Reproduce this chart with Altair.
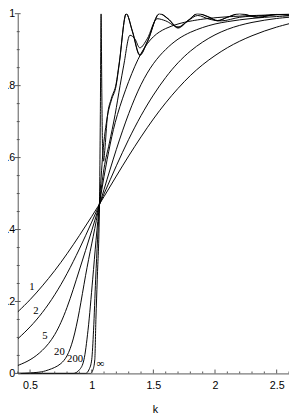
import altair as alt
import pandas as pd

# ---- curve data ----
k_grid = [0.4, 0.5, 0.6, 0.7, 0.8, 0.9, 1.0, 1.1, 1.2, 1.3, 1.4, 1.5, 1.6, 1.7, 1.8, 1.9, 2.0, 2.1, 2.2, 2.3, 2.4, 2.5, 2.6]
v_1 = [0.171, 0.204, 0.243, 0.285, 0.332, 0.383, 0.436, 0.491, 0.549, 0.605, 0.658, 0.708, 0.753, 0.793, 0.829, 0.859, 0.884, 0.906, 0.924, 0.939, 0.952, 0.963, 0.972]
v_2 = [0.096, 0.128, 0.168, 0.217, 0.276, 0.345, 0.420, 0.499, 0.578, 0.652, 0.718, 0.775, 0.824, 0.865, 0.897, 0.922, 0.942, 0.957, 0.968, 0.976, 0.982, 0.987, 0.990]
v_5 = [0.022, 0.036, 0.062, 0.102, 0.178, 0.288, 0.395, 0.512, 0.625, 0.725, 0.807, 0.864, 0.902, 0.931, 0.949, 0.962, 0.972, 0.978, 0.983, 0.987, 0.990, 0.992, 0.994]

k_20 = [0.4, 0.5, 0.6, 0.65, 0.7, 0.75, 0.8, 0.85, 0.9, 0.95, 1.0, 1.05, 1.1, 1.15, 1.2, 1.3, 1.4, 1.5, 1.6, 1.7, 1.8, 2.0, 2.3, 2.6]
v_20 = [0.0, 0.001, 0.004, 0.01, 0.016, 0.026, 0.045, 0.09, 0.17, 0.275, 0.36, 0.445, 0.55, 0.64, 0.715, 0.815, 0.895, 0.94, 0.96, 0.972, 0.98, 0.99, 0.995, 0.998]

k_200 = [0.4, 0.85, 0.9, 0.937, 0.97, 1.008, 1.035, 1.063, 1.1, 1.143, 1.19, 1.23, 1.26, 1.31, 1.35, 1.39, 1.45, 1.53, 1.6, 1.7, 1.78, 1.86, 1.95, 2.05, 2.2, 2.4, 2.6]
v_200 = [0.0, 0.0, 0.01, 0.038, 0.12, 0.262, 0.37, 0.47, 0.57, 0.64, 0.72, 0.80, 0.857, 0.94, 0.93, 0.905, 0.93, 0.986, 0.98, 0.963, 0.98, 0.995, 0.985, 0.98, 0.99, 0.995, 1.0]

k_x = [0.4, 0.95, 0.98, 1.0, 1.015, 1.032, 1.063, 1.09, 1.127, 1.16, 1.198, 1.222, 1.28, 1.33, 1.39, 1.45, 1.55, 1.62, 1.70, 1.78, 1.86, 1.95, 2.02, 2.1, 2.2, 2.35, 2.5, 2.6]
v_x = [0.0, 0.0, 0.012, 0.038, 0.12, 0.262, 0.47, 0.61, 0.714, 0.76, 0.80, 0.857, 1.0, 0.95, 0.884, 0.92, 1.0, 0.985, 0.96, 0.98, 1.0, 0.99, 0.98, 0.99, 1.0, 0.99, 0.998, 0.995]

k_inf = [0.4, 0.99, 1.01, 1.025, 1.034, 1.045, 1.063, 1.07, 1.076, 1.082, 1.088, 1.096, 1.106, 1.127, 1.16, 1.198, 1.222, 1.28, 1.33, 1.39, 1.45, 1.55, 1.62, 1.70, 1.78, 1.86, 1.95, 2.02, 2.1, 2.2, 2.35, 2.5, 2.6]
v_inf = [0.0, 0.0, 0.01, 0.038, 0.15, 0.262, 0.47, 0.72, 1.0, 0.78, 0.63, 0.59, 0.62, 0.714, 0.765, 0.805, 0.86, 1.0, 0.952, 0.886, 0.922, 1.0, 0.986, 0.962, 0.981, 1.0, 0.991, 0.981, 0.99, 1.0, 0.99, 0.998, 0.996]

label_text = ["1", "2", "5", "20", "200", "\u221e"]
label_k = [0.516, 0.548, 0.62, 0.738, 0.865, 1.07]
label_v = [0.24, 0.173, 0.103, 0.06, 0.04, 0.027]

x_major = [0.5, 1.0, 1.5, 2.0, 2.5]
x_minor = [0.4, 0.6, 0.7, 0.8, 0.9, 1.1, 1.2, 1.3, 1.4, 1.6, 1.7, 1.8, 1.9, 2.1, 2.2, 2.3, 2.4, 2.6]
y_major = [0.0, 0.2, 0.4, 0.6, 0.8, 1.0]
y_minor = [0.05, 0.1, 0.15, 0.25, 0.3, 0.35, 0.45, 0.5, 0.55, 0.65, 0.7, 0.75, 0.85, 0.9, 0.95]

# ---- build tables ----
smooth_rows = []
for name, vs in [("1", v_1), ("2", v_2), ("5", v_5)]:
    for i, (a, b) in enumerate(zip(k_grid, vs)):
        smooth_rows.append({"series": name, "k": a, "v": b, "i": i})
for i, (a, b) in enumerate(zip(k_20, v_20)):
    smooth_rows.append({"series": "20", "k": a, "v": b, "i": i})
df_s = pd.DataFrame(smooth_rows)

osc_rows = []
for name, ks, vs in [("200", k_200, v_200), ("x", k_x, v_x), ("inf", k_inf, v_inf)]:
    for i, (a, b) in enumerate(zip(ks, vs)):
        osc_rows.append({"series": name, "k": a, "v": b, "i": i})
df_o = pd.DataFrame(osc_rows)

W, H = 279, 370
xs = alt.Scale(domain=[0.4, 2.6], nice=False, zero=False)
ys = alt.Scale(domain=[0, 1], nice=False, zero=False)

x_axis = alt.Axis(values=x_major, format="~g", ticks=False, tickSize=0, grid=False,
                  domainColor="#555", labelFont="Liberation Sans", labelFontSize=11,
                  labelColor="black", labelPadding=7, title="k",
                  titleFont="Liberation Sans", titleFontSize=11, titleFontWeight="normal",
                  titleColor="black", titlePadding=13, titleX=141)
y_axis = alt.Axis(values=y_major, format="~g", ticks=False, tickSize=0, grid=False,
                  domainColor="#555", labelFont="Liberation Sans", labelFontSize=11,
                  labelColor="black", labelPadding=3, title=None)

smooth = alt.Chart(df_s).mark_line(color="black", strokeWidth=1, interpolate="basis", clip=True).encode(
    x=alt.X("k:Q", scale=xs, axis=x_axis),
    y=alt.Y("v:Q", scale=ys, axis=y_axis),
    detail="series:N",
    order="i:Q",
)
osc = alt.Chart(df_o).mark_line(color="black", strokeWidth=1, interpolate="monotone", clip=True).encode(
    x=alt.X("k:Q", scale=xs),
    y=alt.Y("v:Q", scale=ys),
    detail="series:N",
    order="i:Q",
)

labels_df = pd.DataFrame({"t": label_text, "k": label_k, "v": label_v})
labels = alt.Chart(labels_df).mark_text(font="Liberation Serif", fontSize=11, color="black").encode(
    x=alt.X("k:Q", scale=xs), y=alt.Y("v:Q", scale=ys), text="t:N")

xmaj = alt.Chart(pd.DataFrame({"t": x_major})).mark_rule(color="#555").encode(
    x=alt.X("t:Q", scale=xs), y=alt.value(H), y2=alt.value(H - 4))
xmin = alt.Chart(pd.DataFrame({"t": x_minor})).mark_rule(color="#555").encode(
    x=alt.X("t:Q", scale=xs), y=alt.value(H), y2=alt.value(H - 2))
ymaj = alt.Chart(pd.DataFrame({"t": y_major})).mark_rule(color="#555").encode(
    y=alt.Y("t:Q", scale=ys), x=alt.value(-3), x2=alt.value(3))
ymin = alt.Chart(pd.DataFrame({"t": y_minor})).mark_rule(color="#555").encode(
    y=alt.Y("t:Q", scale=ys), x=alt.value(-1), x2=alt.value(2))

chart = alt.layer(smooth, osc, labels, xmaj, xmin, ymaj, ymin).properties(
    width=W, height=H,
    autosize=alt.AutoSizeParams(type="none"),
    padding={"left": 10, "top": 0, "right": 0, "bottom": 40},
).configure_view(strokeWidth=0)

chart.save("out.html", embed_options={"renderer": "svg", "actions": False})
